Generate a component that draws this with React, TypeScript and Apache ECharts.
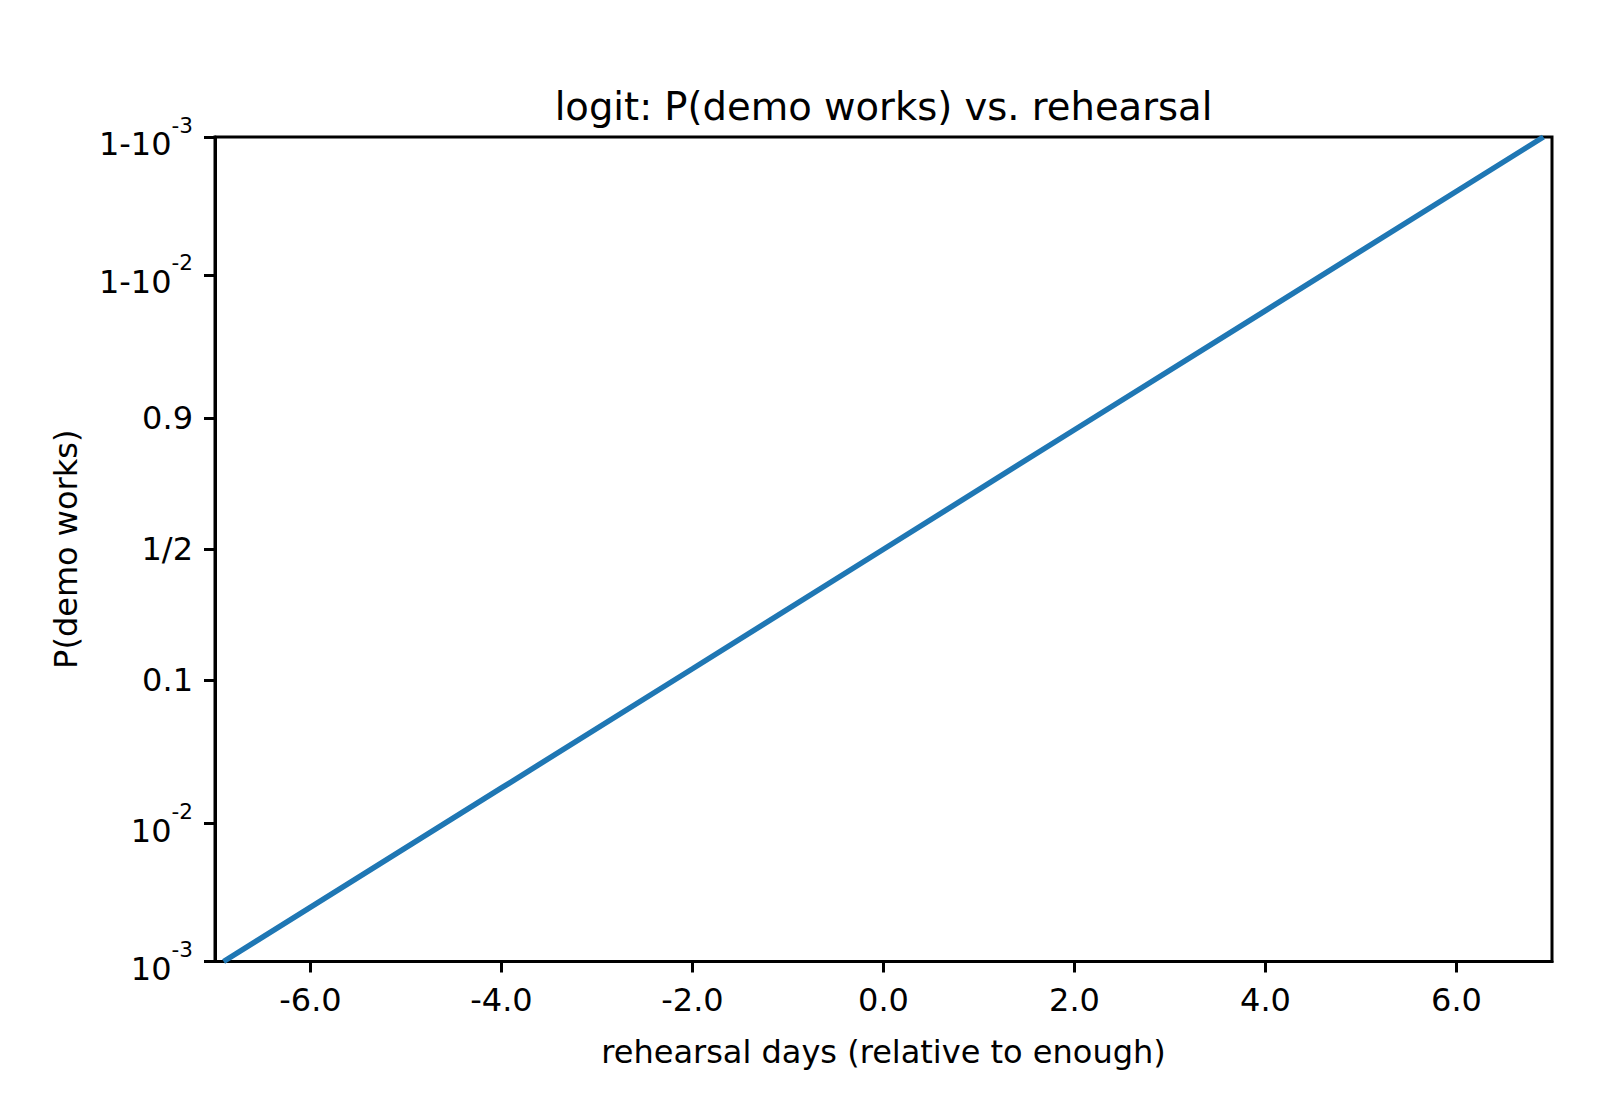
import React, { useEffect, useRef } from "react";
import * as echarts from "echarts";

// rehearsal days (relative to enough) and P(demo works)
const daysX = [-6.91, -4, -2, 0, 2, 4, 6.91];
const pWorks = [0.001, 0.018, 0.119, 0.5, 0.881, 0.982, 0.999];

// axis ticks
const xTicks = [-6, -4, -2, 0, 2, 4, 6];
const yTickP = [0.001, 0.01, 0.1, 0.5, 0.9, 0.99, 0.999];
const yTickLabels = [
  "{b|10}{s|-3}",
  "{b|10}{s|-2}",
  "{n|0.1}",
  "{n|1/2}",
  "{n|0.9}",
  "{b|1-10}{s|-2}",
  "{b|1-10}{s|-3}",
];

const FONT = "DejaVu Sans";
const logit = (p: number) => Math.log(p / (1 - p));

export default function App() {
  const ref = useRef<HTMLDivElement>(null);
  useEffect(() => {
    if (!ref.current) return;
    const chart = echarts.init(ref.current, null, { renderer: "svg" });
    const yMin = logit(0.001);
    const yMax = logit(0.999);
    const yVals = yTickP.map(logit);
    const gridLeft = 215;
    const gridTop = 137;
    const gridW = 1337;
    const gridH = 824.5;
    const LW = 3;
    const FS = 32;
    chart.setOption({
      animation: false,
      backgroundColor: "#ffffff",
      textStyle: { fontFamily: FONT },
      grid: {
        left: gridLeft,
        top: gridTop,
        width: gridW,
        height: gridH,
        show: true,
        borderColor: "#000",
        borderWidth: LW,
        containLabel: false,
      },
      xAxis: {
        type: "value",
        min: -7,
        max: 7,
        axisLine: { show: true, onZero: false, lineStyle: { color: "#000", width: LW } },
        axisTick: {
          show: true,
          length: 11,
          inside: false,
          lineStyle: { color: "#000", width: LW },
          customValues: xTicks,
        },
        axisLabel: {
          margin: 22,
          fontSize: FS,
          fontFamily: FONT,
          color: "#000",
          customValues: xTicks,
          formatter: (v: number) => v.toFixed(1),
        },
        splitLine: { show: false },
      },
      yAxis: {
        type: "value",
        min: yMin,
        max: yMax,
        axisLine: { show: true, onZero: false, lineStyle: { color: "#000", width: LW } },
        axisTick: {
          show: true,
          length: 11,
          inside: false,
          lineStyle: { color: "#000", width: LW },
          customValues: yVals,
        },
        axisLabel: {
          margin: 22,
          color: "#000",
          fontFamily: FONT,
          fontSize: FS,
          customValues: yVals,
          formatter: (v: number) => {
            let best = 0;
            let bd = Infinity;
            yVals.forEach((y, i) => {
              const d = Math.abs(y - v);
              if (d < bd) {
                bd = d;
                best = i;
              }
            });
            return yTickLabels[best];
          },
          rich: {
            b: {
              fontSize: FS,
              fontFamily: FONT,
              color: "#000",
              padding: [14, 0, 0, 0],
            },
            s: {
              fontSize: 21.5,
              fontFamily: FONT,
              color: "#000",
              verticalAlign: "top",
            },
            n: { fontSize: FS, fontFamily: FONT, color: "#000" },
          },
        },
        splitLine: { show: false },
      },
      series: [
        {
          type: "line",
          data: daysX.map((x, i) => [x, logit(pWorks[i])]),
          showSymbol: false,
          symbol: "none",
          clip: true,
          lineStyle: { color: "#1f77b4", width: 5.5 },
          z: 1,
        },
      ],
      graphic: [
        {
          type: "text",
          x: gridLeft + gridW / 2,
          y: 106,
          style: {
            text: "logit: P(demo works) vs. rehearsal",
            fontSize: 38.5,
            fontFamily: FONT,
            fill: "#000",
            textAlign: "center",
            textVerticalAlign: "middle",
          },
        },
        {
          type: "text",
          x: gridLeft + gridW / 2,
          y: 1052,
          style: {
            text: "rehearsal days (relative to enough)",
            fontSize: FS,
            fontFamily: FONT,
            fill: "#000",
            textAlign: "center",
            textVerticalAlign: "middle",
          },
        },
        {
          type: "text",
          x: 66,
          y: gridTop + gridH / 2,
          rotation: Math.PI / 2,
          style: {
            text: "P(demo works)",
            fontSize: FS,
            fontFamily: FONT,
            fill: "#000",
            textAlign: "center",
            textVerticalAlign: "middle",
          },
        },
      ],
    });
    return () => chart.dispose();
  }, []);
  return (
    <div
      ref={ref}
      style={{ position: "fixed", left: 0, top: 0, width: 1600, height: 1120, background: "#fff" }}
    />
  );
}
